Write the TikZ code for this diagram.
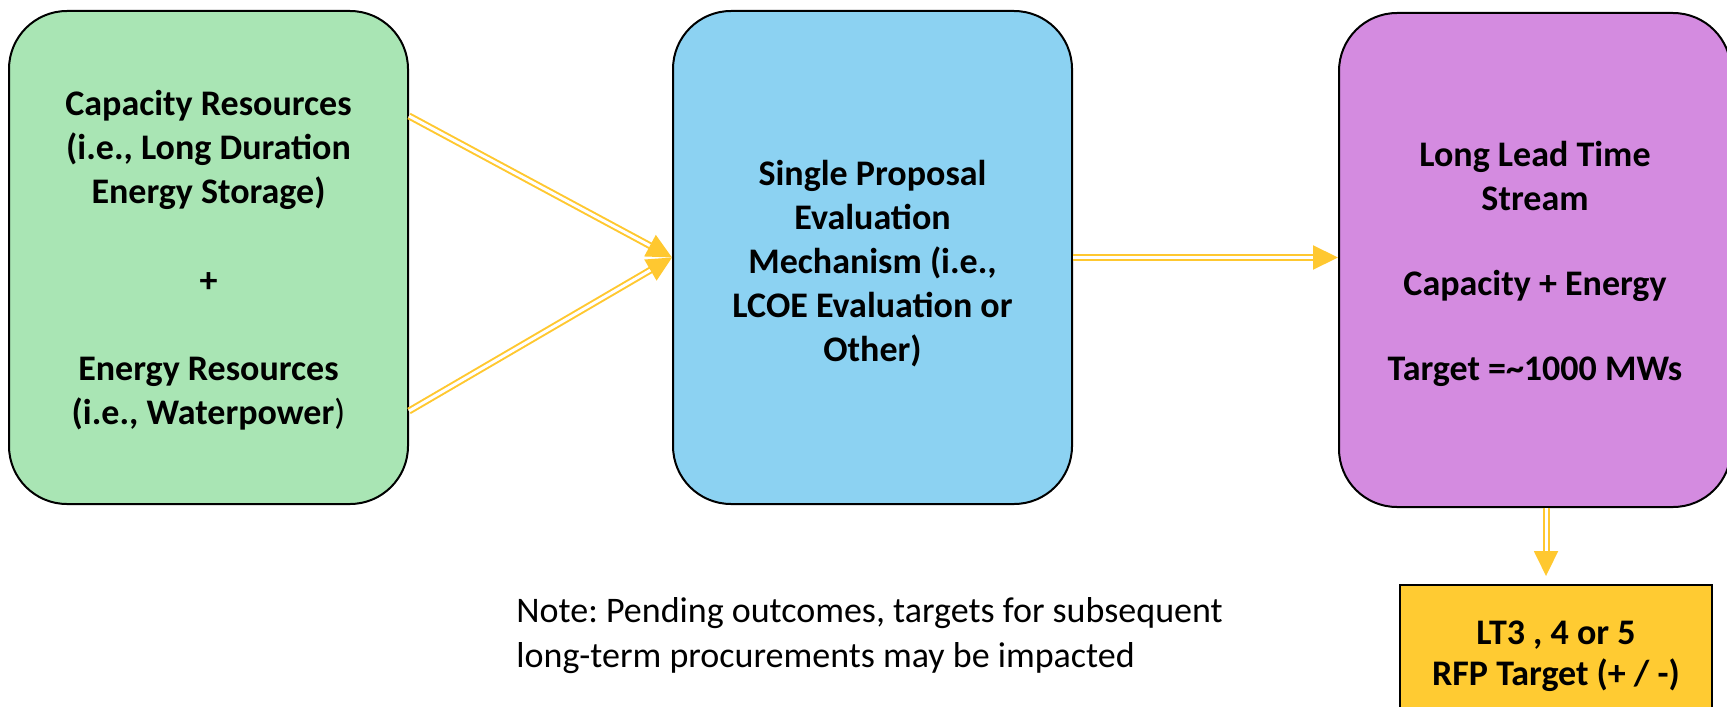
\documentclass[tikz,border=0pt]{standalone}
\usepackage{fontspec}
\setmainfont{Carlito}
\usetikzlibrary{arrows.meta,calc}
\definecolor{boxgreen}{RGB}{169,229,180}
\definecolor{boxblue}{RGB}{140,210,242}
\definecolor{boxpurple}{RGB}{212,139,224}
\definecolor{boxyellow}{RGB}{255,203,50}
\definecolor{arrowyellow}{RGB}{255,200,48}
\tikzset{
  roundbox/.style={draw=black, line width=1pt, rounded corners=29pt, inner sep=0pt},
  plainbox/.style={draw=black, line width=1pt, inner sep=0pt},
  boxtext/.style={align=center, font=\fontsize{18}{22}\selectfont\bfseries, inner sep=0pt},
  dblarrow/.style={draw=arrowyellow, line width=1pt, double=white, double distance=1.5pt,
    -{Triangle[length=12.5pt,width=12pt]}},
  notetext/.style={align=left, font=\fontsize{18}{22.5}\selectfont\frenchspacing, inner sep=0pt}
}
\begin{document}
\begin{tikzpicture}[x=0.5pt,y=-0.5pt]
\path[use as bounding box] (0,0) rectangle (1727,706);
\node[roundbox, fill=boxgreen, minimum width=199.5pt, minimum height=246.5pt] (green) at (208.5,257.5) {};
\node[boxtext] (greentext) at ([yshift=-1.5pt]green.center)
  {Capacity Resources\\(i.e., Long Duration\\Energy Storage)\\[22.3pt]+\\[22.3pt]Energy Resources\\(i.e., Waterpower{\mdseries)}};
\node[roundbox, fill=boxblue, minimum width=199.5pt, minimum height=246.5pt] (blue) at (872.5,257.5) {};
\node[boxtext] (bluetext) at ([yshift=-3pt]blue.center)
  {Single Proposal\\Evaluation\\Mechanism (i.e.,\\LCOE Evaluation or\\Other)};
\node[roundbox, fill=boxpurple, minimum width=196pt, minimum height=247pt] (purple) at (1535,260) {};
\node[boxtext] (purpletext) at ([yshift=-2pt]purple.center)
  {Long Lead Time\\Stream\\[20.5pt]Capacity + Energy\\[20.5pt]Target =\textasciitilde1000 MWs};
\node[plainbox, fill=boxyellow, minimum width=156pt, minimum height=66pt] (yellow) at (1556,651) {};
\node[boxtext, font=\fontsize{18}{20.5}\selectfont\bfseries] (yellowtext) at ([yshift=-2.6pt]yellow.center)
  {LT3 , 4 or 5\\RFP Target (+ / -)};
\node[notetext, anchor=west] (note) at (516,636)
  {Note: Pending outcomes, targets for subsequent\\long-term procurements may be impacted};
\draw[dblarrow] ([yshift=70.75pt]green.east) -- (blue.west);
\draw[dblarrow] ([yshift=-76.75pt]green.east) -- (blue.west);
\draw[dblarrow] (blue.east) -- (blue.east -| purple.west);
\draw[dblarrow, shorten >=4pt] ([xshift=5.5pt]purple.south) -- ([xshift=5.5pt]purple.south |- yellow.north);
\end{tikzpicture}
\end{document}
